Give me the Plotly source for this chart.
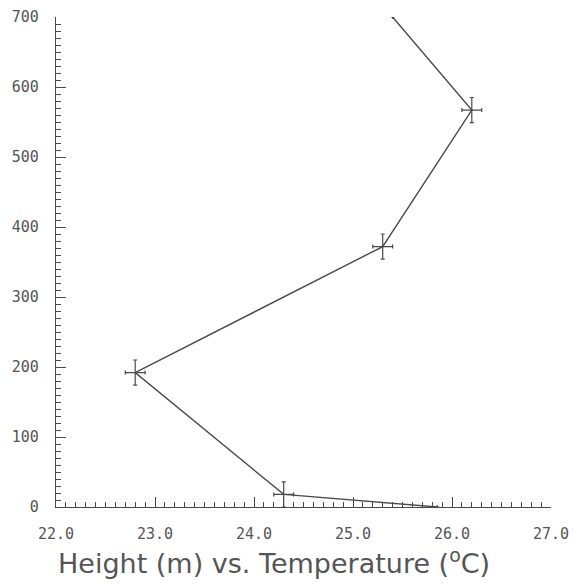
import plotly.graph_objects as go

# Data
temperature = [25.85, 24.3, 22.8, 25.3, 26.2, 25.4]
height = [0, 18, 192, 372, 567, 700]
temp_err = [0, 0.1, 0.1, 0.1, 0.1, 0]
height_err = [0, 18, 18, 18, 18, 0]

x_ticks = [22.0, 23.0, 24.0, 25.0, 26.0, 27.0]
y_ticks = [0, 100, 200, 300, 400, 500, 600, 700]

ink = "#4a4a4a"

fig = go.Figure()
fig.add_trace(go.Scatter(
    x=temperature, y=height, mode="lines",
    line=dict(color=ink, width=1.4),
    error_x=dict(type="data", array=temp_err, color=ink, thickness=1.2, width=2),
    error_y=dict(type="data", array=height_err, color=ink, thickness=1.2, width=2),
    showlegend=False, hoverinfo="skip",
))

fig.update_layout(
    width=569, height=576,
    margin=dict(l=48, r=26, t=9, b=77, autoexpand=False),
    paper_bgcolor="white", plot_bgcolor="white",
    font=dict(family="DejaVu Sans Mono", size=15, color="#555"),
    xaxis=dict(
        range=[22, 27], tickvals=x_ticks, ticktext=[f"{v:.1f}" for v in x_ticks],
        ticks="inside", ticklen=10, tickwidth=1.2, tickcolor=ink,
        minor=dict(dtick=0.1, tick0=22, ticks="inside", ticklen=5, tickwidth=1, tickcolor=ink),
        showline=True, linecolor=ink, linewidth=1.3, showgrid=False, zeroline=False,
        ticklabelstandoff=13, automargin=False,
    ),
    yaxis=dict(
        range=[0, 700], tickvals=y_ticks, ticktext=[str(v) for v in y_ticks],
        ticks="inside", ticklen=10, tickwidth=1.2, tickcolor=ink,
        minor=dict(dtick=10, tick0=0, ticks="inside", ticklen=5, tickwidth=1, tickcolor=ink),
        showline=True, linecolor=ink, linewidth=1.3, showgrid=False, zeroline=False,
        ticklabelstandoff=13, automargin=False,
    ),
    annotations=[dict(
        text="Height (m) vs. Temperature (<sup>o</sup>C)",
        xref="paper", yref="paper", x=0.44, y=-0.112,
        xanchor="center", yanchor="middle", showarrow=False,
        font=dict(family="DejaVu Sans", size=27, color="#555"),
    )],
)

fig.write_html("out.html")
